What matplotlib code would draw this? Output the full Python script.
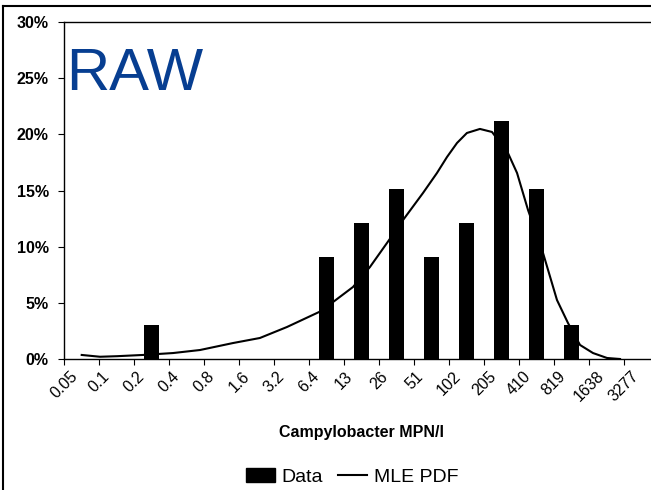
import numpy as np
import matplotlib
matplotlib.use("Agg")
import matplotlib.pyplot as plt
from matplotlib.lines import Line2D
from matplotlib.ticker import FixedLocator, NullLocator, PercentFormatter

plt.rcParams['font.family'] = ['Liberation Sans', 'DejaVu Sans']

# bin edges (MPN/l), labels as printed
edge_labels = ['0.05', '0.1', '0.2', '0.4', '0.8', '1.6', '3.2', '6.4', '13', '26',
               '51', '102', '205', '410', '819', '1638', '3277']
first_edge = 0.05

# observed counts per bin (33 samples)
counts = [0, 0, 1, 0, 0, 0, 0, 3, 4, 5, 3, 4, 7, 5, 1, 0, 0]
n_samples = 33

# MLE PDF curve (MPN/l, percent)
curve_mpn = [0.071, 0.102, 0.143, 0.239, 0.433, 0.739, 1.42, 2.42, 4.14, 7.8,
             10.3, 15.3, 21.4, 30.0, 41.2, 61.2, 80.7, 98.4, 120, 146, 189, 240,
             329, 394, 490, 659, 869, 1081, 1371, 1774, 2342, 3030]
curve_pct = [0.36, 0.2, 0.25, 0.36, 0.53, 0.80, 1.42, 1.87, 2.85, 4.18,
             5.07, 6.41, 8.19, 10.33, 12.37, 14.78, 16.56, 17.98, 19.23, 20.12, 20.48, 20.21,
             18.34, 16.56, 13.26, 9.44, 5.25, 3.20, 1.25, 0.53, 0.09, 0.0]

W, H = 651, 490
fig = plt.figure(figsize=(W / 100, H / 100), dpi=100)
ax = fig.add_axes([64 / W, 1 - 359 / H, 595 / W, 337 / H])

ax.set_xscale('log', base=2)
n_bins = len(counts)
edges = first_edge * 2.0 ** np.arange(n_bins + 1)
bar_frac = 0.43
lefts = first_edge * 2.0 ** (np.arange(n_bins) + 0.5 - bar_frac / 2)
rights = first_edge * 2.0 ** (np.arange(n_bins) + 0.5 + bar_frac / 2)
pct = np.array(counts) / n_samples * 100
ax.bar(lefts, pct, width=rights - lefts, align='edge', color='black', linewidth=0)
ax.plot(curve_mpn, curve_pct, color='black', lw=1.5, solid_joinstyle='round')

ax.set_xlim(edges[0], edges[-1])
ax.set_ylim(0, 30)
ax.xaxis.set_major_locator(FixedLocator(edges[:len(edge_labels)]))
ax.xaxis.set_minor_locator(NullLocator())
ax.set_xticklabels(edge_labels, rotation=45, ha='center', va='top', fontsize=11.5)
ax.set_yticks(np.arange(0, 31, 5))
ax.yaxis.set_major_formatter(PercentFormatter(decimals=0))
for lab in ax.get_yticklabels():
    lab.set_fontweight('bold')
    lab.set_fontsize(11.5)
ax.tick_params(axis='y', direction='out', length=4, width=0.8, pad=7)
ax.tick_params(axis='x', direction='out', length=4, width=0.8, pad=3)
ax.spines['right'].set_visible(False)
for s in ['left', 'top', 'bottom']:
    ax.spines[s].set_linewidth(1.0)

ax.set_xlabel('Campylobacter MPN/l', fontweight='bold', fontsize=11.5, labelpad=15)

ax.text(2 / 595, 1 - (90 - 22) / 337, 'RAW', transform=ax.transAxes,
        fontsize=43, color='#073E91', ha='left', va='baseline')

# outer chart border
fig.add_artist(Line2D([3 / W, 3 / W], [0, 1 - 6 / H], color='black', lw=1.5))
fig.add_artist(Line2D([3 / W, 1], [1 - 6 / H, 1 - 6 / H], color='black', lw=1.5))

handles = [plt.Rectangle((0, 0), 1, 1, color='black'),
           Line2D([], [], color='black', lw=1.5)]
fig.legend(handles, ['Data', 'MLE PDF'], loc='center', bbox_to_anchor=(352 / W, 1 - 477 / H),
           ncol=2, frameon=False, fontsize=14, handlelength=1.5, handletextpad=0.35,
           columnspacing=0.75, borderpad=0)

fig.savefig('out.png', dpi=100)
